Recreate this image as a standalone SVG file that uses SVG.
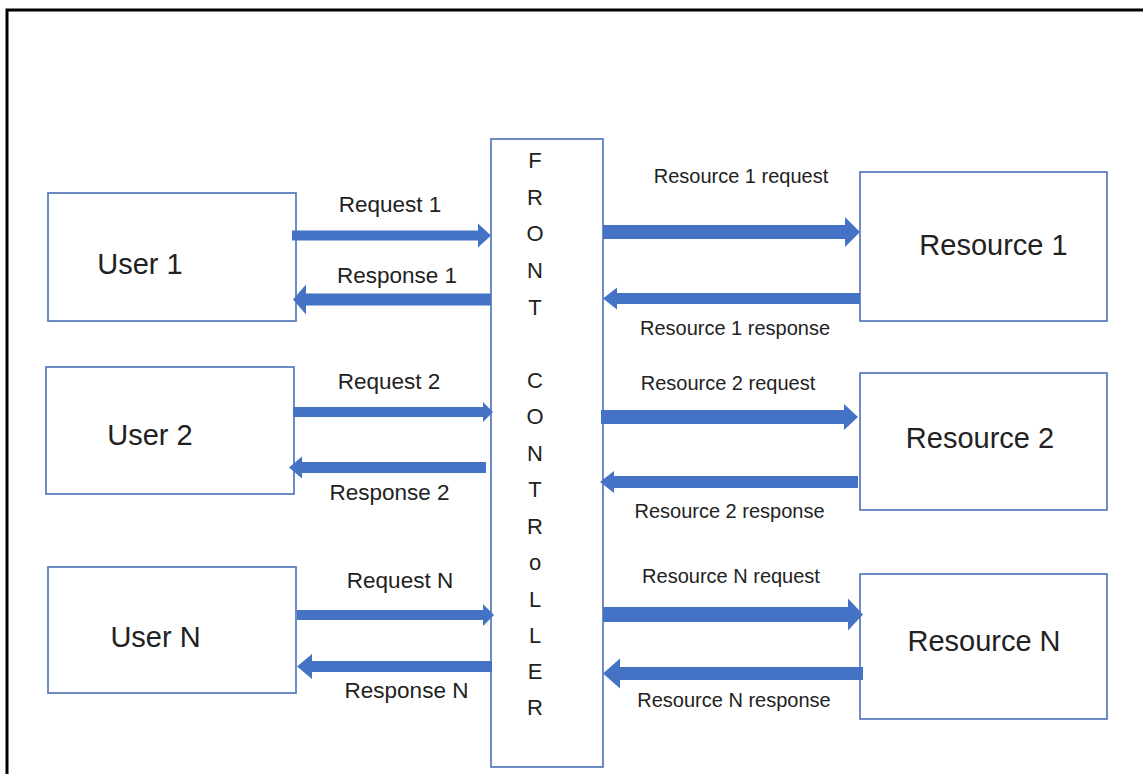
<svg xmlns="http://www.w3.org/2000/svg" width="1143" height="774" viewBox="0 0 1143 774">
<style>
.box{fill:#fff;stroke:#4a70b8;stroke-width:1.6}
.arr{fill:#4472c4}
.lbl{font-family:"Liberation Sans",Arial,sans-serif;font-size:22.5px;fill:#222;text-anchor:middle}
.rl{font-family:"Liberation Sans",Arial,sans-serif;font-size:20px;fill:#222;text-anchor:middle}
.big{font-family:"Liberation Sans",Arial,sans-serif;font-size:29px;fill:#222;text-anchor:middle}
.fc{font-family:"Liberation Sans",Arial,sans-serif;font-size:22px;fill:#222;text-anchor:middle}
.frame{fill:none;stroke:#000;stroke-width:3}
</style>
<rect width="1143" height="774" fill="#fff"/>
<path class="frame" d="M7,774 L7,10 L1143,10"/>
<g id="user1"><rect class="box" x="48" y="193" width="248" height="128"/><text class="big" x="140" y="274">User 1</text></g>
<g id="user2"><rect class="box" x="46" y="367" width="248" height="127"/><text class="big" x="150" y="445">User 2</text></g>
<g id="userN"><rect class="box" x="48" y="567" width="248" height="126"/><text class="big" x="155.5" y="647">User N</text></g>
<g id="front-controller"><rect class="box" x="491" y="139" width="112" height="628"/>
<text class="fc" x="535" y="168">F</text><text class="fc" x="535" y="205">R</text><text class="fc" x="535" y="241">O</text><text class="fc" x="535" y="278">N</text><text class="fc" x="535" y="315">T</text>
<text class="fc" x="535" y="388">C</text><text class="fc" x="535" y="424">O</text><text class="fc" x="535" y="461">N</text><text class="fc" x="535" y="497">T</text><text class="fc" x="535" y="534">R</text><text class="fc" x="535" y="570">o</text><text class="fc" x="535" y="607">L</text><text class="fc" x="535" y="643">L</text><text class="fc" x="535" y="679">E</text><text class="fc" x="535" y="715">R</text></g>
<g id="resource1"><rect class="box" x="860" y="172" width="247" height="149"/><text class="big" x="993.5" y="255">Resource 1</text></g>
<g id="resource2"><rect class="box" x="860" y="373" width="247" height="137"/><text class="big" x="980" y="448">Resource 2</text></g>
<g id="resourceN"><rect class="box" x="860" y="574" width="247" height="145"/><text class="big" x="984" y="651">Resource N</text></g>
<g id="connectors">
<path class="arr" d="M292,230.5 L478,230.5 L478,223.5 L491,235.5 L478,247.5 L478,240.5 L292,240.5 Z"/>
<path class="arr" d="M491,293.5 L306,293.5 L306,284.5 L293,299.5 L306,314.5 L306,305.5 L491,305.5 Z"/>
<path class="arr" d="M293,407 L483,407 L483,402 L493,412 L483,422 L483,417 L293,417 Z"/>
<path class="arr" d="M486,462 L302,462 L302,456.5 L289,467.5 L302,478.5 L302,473 L486,473 Z"/>
<path class="arr" d="M297,610 L483,610 L483,604 L494,615 L483,626 L483,620 L297,620 Z"/>
<path class="arr" d="M492,661 L312,661 L312,654 L297,666.5 L312,679 L312,672 L492,672 Z"/>
<path class="arr" d="M603,225 L845,225 L845,217 L860,232 L845,247 L845,239 L603,239 Z"/>
<path class="arr" d="M860,293 L617,293 L617,287.5 L603,298.5 L617,309.5 L617,304 L860,304 Z"/>
<path class="arr" d="M601,410 L844,410 L844,404 L858,417 L844,430 L844,424 L601,424 Z"/>
<path class="arr" d="M858,476 L614,476 L614,471 L600,482 L614,493 L614,488 L858,488 Z"/>
<path class="arr" d="M603,607 L848,607 L848,598.5 L863,614.5 L848,630.5 L848,622 L603,622 Z"/>
<path class="arr" d="M863,667 L620,667 L620,658.5 L603,673.5 L620,688.5 L620,680 L863,680 Z"/>
</g>
<g id="labels">
<text class="lbl" x="390" y="212">Request 1</text>
<text class="lbl" x="397" y="283">Response 1</text>
<text class="lbl" x="389" y="389">Request 2</text>
<text class="lbl" x="389.5" y="500">Response 2</text>
<text class="lbl" x="400" y="588">Request N</text>
<text class="lbl" x="406.5" y="698">Response N</text>
<text class="rl" x="741" y="183">Resource 1 request</text>
<text class="rl" x="735" y="335">Resource 1 response</text>
<text class="rl" x="728" y="390">Resource 2 request</text>
<text class="rl" x="729.5" y="518">Resource 2 response</text>
<text class="rl" x="731" y="583">Resource N request</text>
<text class="rl" x="734" y="707">Resource N response</text>
</g>
</svg>
